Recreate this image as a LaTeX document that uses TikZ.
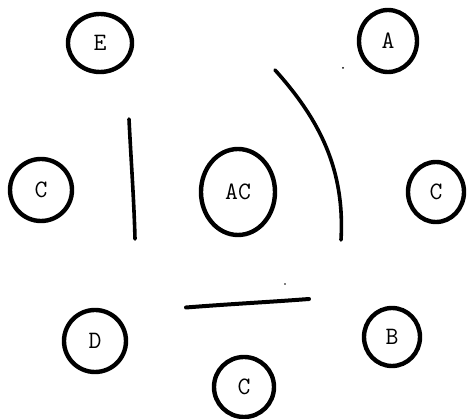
\documentclass[tikz,border=0pt]{standalone}
\usepackage{fontspec}
\usetikzlibrary{shapes.geometric}
\begin{document}
\begin{tikzpicture}[x=1pt,y=-1pt,
  ring/.style={draw=black,ellipse,line width=4.4pt,inner sep=0pt,
    font=\ttfamily\fontsize{25}{25}\selectfont},
  stroke/.style={line width=3.6pt,line cap=round,draw=black}]
\useasboundingbox (0,0) rectangle (467,419);
\node[ring,minimum width=64pt,minimum height=58pt] (e) at (100,43) {E};
\node[ring,minimum width=58pt,minimum height=62pt] (a) at (388,41) {A};
\node[ring,minimum width=62pt,minimum height=62pt] (cl) at (41,190) {C};
\node[ring,minimum width=74pt,minimum height=86pt] (ac) at (238,192) {AC};
\node[ring,minimum width=56pt,minimum height=60pt] (cr) at (436,192) {C};
\node[ring,minimum width=62pt,minimum height=62pt] (d) at (95,341) {D};
\node[ring,minimum width=60pt,minimum height=60pt] (cb) at (244,387) {C};
\node[ring,minimum width=56pt,minimum height=58pt] (b) at (392,337) {B};
\draw[stroke] (129,119) .. controls (131,160) and (134,200) .. (135,239);
\draw[stroke] (275,70) .. controls (320,120) and (345,170) .. (341,240);
\draw[stroke,line width=4pt] (186,307.5) .. controls (230,304) and (270,302) .. (309,299);
\fill (343,68) circle (1pt);
\fill (285,284) circle (0.8pt);
\end{tikzpicture}
\end{document}
